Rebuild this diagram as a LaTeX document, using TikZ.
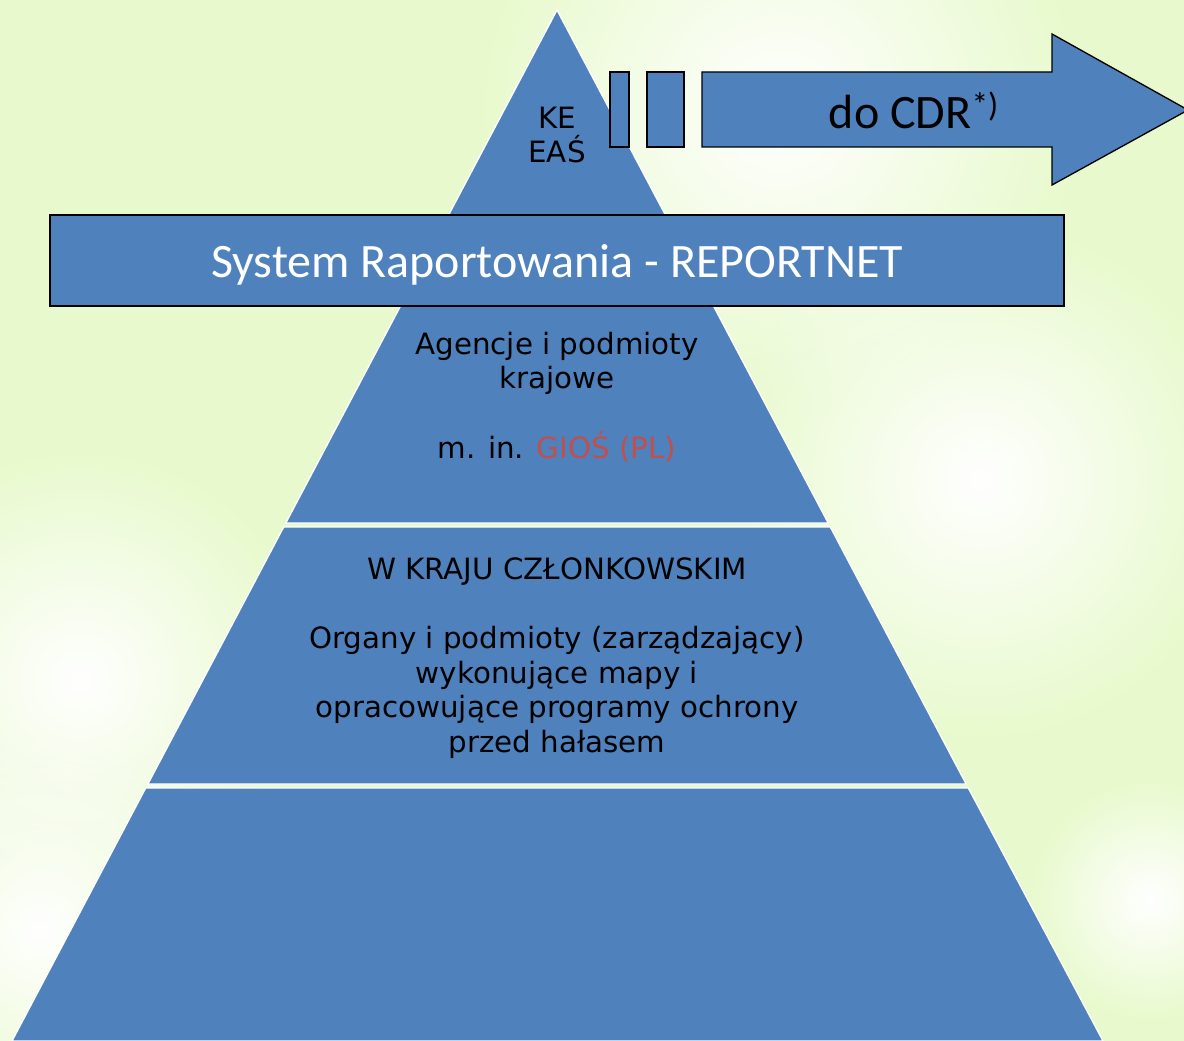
\documentclass[tikz,border=0pt]{standalone}
\usepackage{fontspec}
\setmainfont{DejaVu Sans}
\newfontfamily\calibri{Carlito}
\usetikzlibrary{positioning, fadings}
\definecolor{pyrblue}{RGB}{79,129,189}
\definecolor{giosred}{RGB}{192,80,77}
\definecolor{bggreen}{RGB}{232,250,205}
\tikzfading[name=softblob, inner color=transparent!0, outer color=transparent!100]

\begin{document}
\begin{tikzpicture}[x=0.75pt,y=-0.75pt,
    band/.style={fill=pyrblue, draw=white, line width=1pt},
    box/.style={fill=pyrblue, draw=black, line width=1pt},
    blob/.style={fill=white, path fading=softblob},
    pyrtext/.style={font=\fontsize{22}{26}\selectfont, align=center, text=black},
    bigtext/.style={font=\calibri\fontsize{36}{40}\selectfont}]
        \useasboundingbox (0,0) rectangle (1184,1041);
        % background
        \fill[bggreen] (0,0) rectangle (1184,1041);
        \fill[blob] (780,110) circle (300);
        \fill[blob] (980,480) circle (260);
        \fill[blob] (80,680) circle (230);
        \fill[blob] (40,930) circle (200);
        \fill[blob] (1150,900) circle (120);
        
        % pyramid
        \draw[band] (557,10) -- (828.2,523) -- (285.8,523) -- cycle;
        \draw[band] (283.7,527) -- (830.3,527) -- (966.1,784) -- (147.9,784) -- cycle;
        \draw[band] (145.7,788) -- (968.3,788) -- (1103,1041) -- (12,1041) -- cycle;
        
        \node[pyrtext] (ke) at (557,135) {KE\\EAŚ};
        \node[pyrtext] (agencje) at (557,397) {Agencje i podmioty\\krajowe\\[26pt]m. in. \textcolor{giosred}{GIOŚ (PL)}};
        \node[pyrtext] (kraj) at (557,658) {W KRAJU CZŁONKOWSKIM\\[26pt]Organy i podmioty (zarządzający)\\wykonujące mapy i\\opracowujące programy ochrony\\przed hałasem};
        
        % arrow to CDR
        \draw[box] (610,72) rectangle (629,147);
        \draw[box] (647,72) rectangle (684,147);
        \draw[box] (702,72) -- (1052,72) -- (1052,34) -- (1188,110) -- (1052,185) -- (1052,147) -- (702,147) -- cycle;
        \node[bigtext] (cdr) at (914,110) {do CDR\textsuperscript{*)}};
        
        % reporting system
        \draw[box, line width=1.4pt] (50,215) rectangle (1064,306);
        \node[bigtext, text=white] (reportnet) at (557,265) {System Raportowania - REPORTNET};
    \end{tikzpicture}
\end{document}
